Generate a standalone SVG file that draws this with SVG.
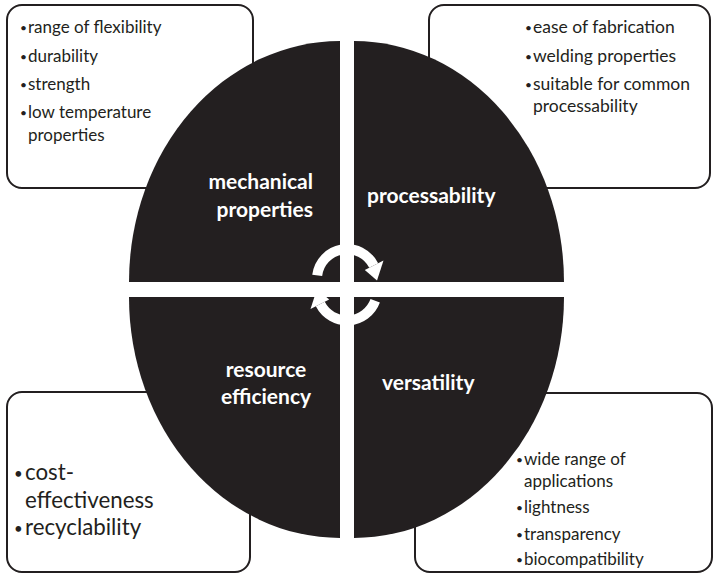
<svg xmlns="http://www.w3.org/2000/svg" width="715" height="574" viewBox="0 0 715 574">
<style>
.box{fill:#fff;stroke:#231f20;stroke-width:2}
.q{fill:#231f20}
.t{font-family:Lato,"Open Sans",sans-serif;fill:#231f20;font-size:17px}
.tb{font-size:22.3px}
.b{font-size:12px}
.bb{font-size:15px}
.lab{font-family:Lato,"Open Sans",sans-serif;fill:#fff;font-size:21px;font-weight:bold}
.arc{fill:none;stroke:#fff;stroke-width:10}
.head{fill:#fff}
</style>
<rect width="715" height="574" fill="#fff"/>
<g id="box-mechanical">
<rect class="box" x="7" y="5" width="246" height="183" rx="15"/>
<text class="t"><tspan class="b" x="20" y="32">•</tspan><tspan x="28" y="33">range of flexibility</tspan></text>
<text class="t"><tspan class="b" x="20" y="61">•</tspan><tspan x="28" y="62">durability</tspan></text>
<text class="t"><tspan class="b" x="20" y="89">•</tspan><tspan x="28" y="90">strength</tspan></text>
<text class="t"><tspan class="b" x="20" y="117">•</tspan><tspan x="28" y="118">low temperature</tspan><tspan x="28" y="141">properties</tspan></text>
</g>
<g id="box-processability">
<rect class="box" x="429" y="5" width="281" height="183" rx="15"/>
<text class="t" style="font-size:17.5px"><tspan class="b" x="525" y="32">•</tspan><tspan x="533" y="33">ease of fabrication</tspan></text>
<text class="t" style="font-size:17.5px"><tspan class="b" x="525" y="61">•</tspan><tspan x="533" y="62">welding properties</tspan></text>
<text class="t" style="font-size:17.5px"><tspan class="b" x="525" y="89">•</tspan><tspan x="533" y="90">suitable for common</tspan><tspan x="533" y="112">processability</tspan></text>
</g>
<g id="box-resource">
<rect class="box" x="7" y="392" width="243" height="180" rx="15"/>
<text class="t tb"><tspan class="bb" x="14" y="479">•</tspan><tspan x="25" y="480">cost-</tspan><tspan x="25" y="508">effectiveness</tspan></text>
<text class="t tb"><tspan class="bb" x="14" y="534">•</tspan><tspan x="25" y="535">recyclability</tspan></text>
</g>
<g id="box-versatility">
<rect class="box" x="415" y="393" width="297" height="179" rx="15"/>
<text class="t"><tspan class="b" x="516" y="464">•</tspan><tspan x="524" y="465">wide range of</tspan><tspan x="524" y="487">applications</tspan></text>
<text class="t"><tspan class="b" x="516" y="512">•</tspan><tspan x="524" y="513">lightness</tspan></text>
<text class="t"><tspan class="b" x="516" y="539">•</tspan><tspan x="524" y="540">transparency</tspan></text>
<text class="t"><tspan class="b" x="516" y="564">•</tspan><tspan x="524" y="565">biocompatibility</tspan></text>
</g>
<g id="q-mechanical">
<path class="q" d="M340,282 L129,282 A211,241 0 0 1 340,41 Z"/>
<text class="lab" text-anchor="end"><tspan x="313" y="189">mechanical</tspan><tspan x="313" y="217">properties</tspan></text>
</g>
<g id="q-processability">
<path class="q" d="M354,282 L354,41 A210,241 0 0 1 564,282 Z"/>
<text class="lab" x="367" y="203">processability</text>
</g>
<g id="q-resource">
<path class="q" d="M340,297 L340,538 A211,241 0 0 1 129,297 Z"/>
<text class="lab" text-anchor="middle"><tspan x="266" y="377">resource</tspan><tspan x="266" y="404">efficiency</tspan></text>
</g>
<g id="q-versatility">
<path class="q" d="M354,297 L564,297 A210,241 0 0 1 354,538 Z"/>
<text class="lab" x="382" y="390">versatility</text>
</g>
<g id="connectors">
<path class="arc" d="M317.2,275.3 A30,30 0 0 1 373.7,265.4"/>
<polygon class="head" points="364.8,269.9 383.5,260.4 377,280.6"/>
<path class="arc" d="M375.2,300.8 A30,30 0 0 1 320.3,304.1"/>
<polygon class="head" points="329.2,299.6 310.5,309.1 317,288.9"/>
</g>
</svg>
